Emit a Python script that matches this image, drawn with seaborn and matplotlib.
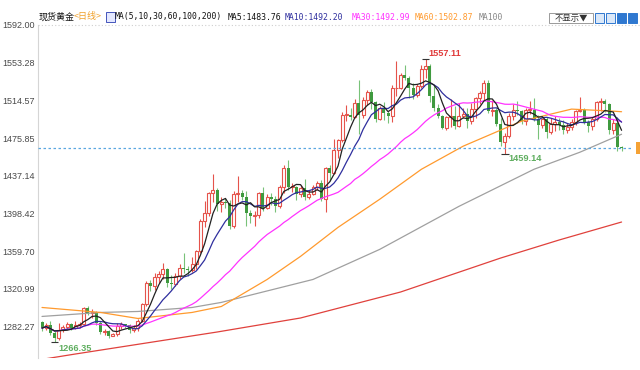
import numpy as np
import pandas as pd
import matplotlib
matplotlib.use('Agg')
import matplotlib.pyplot as plt
import seaborn as sns
from matplotlib.patches import Rectangle

# daily candles, spot gold (index 0 = first visible day)
opens = [1287, 1280.6, 1284, 1276, 1270.5, 1280, 1282, 1284.5, 1281, 1284,
         1285, 1301, 1296, 1297, 1286, 1277, 1277.5, 1273, 1274.5, 1283,
         1284.5, 1283.5, 1279, 1280.5, 1288, 1305, 1327, 1324, 1333, 1336,
         1341, 1327, 1326, 1334, 1342, 1341, 1340, 1346, 1360, 1391,
         1399, 1419, 1423, 1408, 1410, 1409, 1385, 1418, 1419, 1415,
         1399, 1396, 1397, 1419, 1404, 1415, 1413, 1406, 1426, 1445,
         1426, 1426, 1418, 1425, 1415, 1418, 1426, 1430, 1413, 1445,
         1440, 1464, 1474, 1500, 1500, 1497, 1512, 1500, 1515, 1523,
         1513, 1495, 1507, 1502, 1498, 1527, 1527, 1541, 1538, 1527,
         1520, 1529, 1547, 1550, 1519, 1507, 1499, 1486, 1497, 1498,
         1488, 1499, 1501, 1493, 1506, 1517, 1522, 1532, 1504, 1505,
         1490, 1472, 1478, 1499, 1505, 1504, 1493, 1505, 1505, 1495,
         1489, 1495, 1482, 1490, 1492, 1489, 1484, 1487, 1492, 1504,
         1505, 1492, 1488, 1495, 1513, 1514, 1511, 1484, 1491, 1467]
highs = [1288, 1286, 1288, 1278, 1286, 1284, 1287, 1286, 1288, 1287,
         1302, 1303, 1300, 1298, 1288, 1280, 1279, 1276, 1286, 1287,
         1285, 1285, 1284, 1290, 1306, 1329, 1330, 1337, 1339, 1348,
         1342, 1335, 1337, 1346, 1358, 1344, 1354, 1361, 1393, 1411,
         1420, 1439, 1425, 1415, 1414, 1412, 1421, 1437, 1422, 1421,
         1402, 1401, 1420, 1426, 1418, 1419, 1416, 1428, 1448, 1453,
         1430, 1427, 1428, 1434, 1422, 1428, 1432, 1433, 1446, 1448,
         1475, 1475, 1503, 1510, 1507, 1516, 1535, 1518, 1525, 1526,
         1514, 1509, 1513, 1504, 1530, 1555, 1543, 1551, 1540, 1532,
         1531, 1551, 1557.11, 1552, 1530, 1511, 1500, 1499, 1516, 1509,
         1512, 1507, 1507, 1512, 1518, 1524, 1535, 1535, 1515, 1507,
         1496, 1481, 1502, 1511, 1514, 1505, 1507, 1514, 1517, 1500,
         1496, 1497, 1496, 1499, 1496, 1494, 1491, 1495, 1505, 1518,
         1507, 1494, 1497, 1514, 1517, 1516, 1512, 1495, 1497, 1468]
lows = [1278, 1279, 1274, 1266.35, 1268, 1277, 1280, 1279, 1280, 1281,
        1284, 1294, 1291, 1284, 1275, 1274, 1270, 1272, 1272, 1280,
        1281, 1276, 1277, 1278, 1287, 1303, 1319, 1320, 1327, 1331,
        1323, 1321, 1324, 1331, 1337, 1334, 1338, 1341, 1358, 1384,
        1396, 1410, 1401, 1400, 1404, 1382, 1383, 1410, 1412, 1386,
        1389, 1385, 1394, 1401, 1403, 1407, 1400, 1404, 1419, 1422,
        1420, 1412, 1415, 1412, 1413, 1417, 1422, 1411, 1400, 1432,
        1439, 1455, 1472, 1493, 1494, 1496, 1480, 1496, 1510, 1506,
        1492, 1494, 1494, 1491, 1492, 1519, 1526, 1535, 1517, 1516,
        1518, 1527, 1538, 1513, 1504, 1496, 1485, 1484, 1487, 1485,
        1487, 1496, 1486, 1490, 1496, 1511, 1515, 1502, 1499, 1488,
        1468, 1459.14, 1476, 1494, 1500, 1490, 1489, 1501, 1493, 1475,
        1486, 1476, 1480, 1483, 1484, 1480, 1481, 1484, 1489, 1503,
        1490, 1482, 1484, 1493, 1504, 1503, 1480, 1480, 1463, 1463]
closes = [1280.6, 1283.7, 1276, 1270.5, 1279, 1282, 1284.5, 1281, 1284, 1285,
          1301, 1296, 1297, 1286, 1277, 1277.5, 1273, 1274.5, 1283, 1284.5,
          1283.5, 1279, 1280.5, 1288, 1305, 1327, 1324, 1333, 1336, 1341,
          1327, 1326, 1334, 1342, 1341, 1340, 1346, 1360, 1391, 1399,
          1419, 1423, 1408, 1410, 1409, 1385, 1418, 1419, 1415, 1399,
          1396, 1397, 1419, 1404, 1415, 1413, 1406, 1426, 1445, 1426,
          1426, 1418, 1425, 1415, 1418, 1426, 1430, 1413, 1445, 1440,
          1464, 1474, 1500, 1500, 1497, 1512, 1500, 1515, 1523, 1513,
          1495, 1507, 1502, 1498, 1527, 1527, 1541, 1538, 1527, 1520,
          1529, 1547, 1550, 1519, 1507, 1499, 1486, 1497, 1498, 1488,
          1499, 1501, 1493, 1506, 1517, 1522, 1532, 1504, 1505, 1490,
          1472, 1478, 1499, 1505, 1504, 1493, 1505, 1505, 1495, 1489,
          1495, 1482, 1490, 1492, 1489, 1484, 1487, 1492, 1504, 1505,
          1492, 1488, 1495, 1513, 1514, 1511, 1484, 1491, 1467, 1466]

# long moving averages (candle index, value)
ma60_idx = [0, 14, 23, 36, 43, 54, 62, 71, 81, 91, 101, 115, 127, 137, 139]
ma60_val = [1301.8, 1296.7, 1290.5, 1296.7, 1302.8, 1330.6, 1354.3, 1384.1,
            1413.0, 1443.8, 1467.5, 1493.2, 1505.6, 1503.5, 1502.9]
ma100_idx = [0, 14, 23, 36, 43, 65, 81, 100, 118, 129, 139]
ma100_val = [1292.6, 1296.7, 1297.7, 1301.8, 1307.0, 1330.6, 1361.5, 1405.7,
             1443.8, 1461.3, 1479.8]
ma200_idx = [0, 8, 42, 62, 86, 110, 124, 139]
ma200_val = [1248.5, 1254.0, 1276.6, 1291.0, 1317.7, 1352.6, 1371.1, 1389.6]

ytick_vals = [1282.27, 1320.99, 1359.70, 1398.42, 1437.14, 1475.85, 1514.57, 1553.28, 1592.00]
ytick_labels = ['1282.27', '1320.99', '1359.70', '1398.42', '1437.14',
                '1475.85', '1514.57', '1553.28', '1592.00']
last_price = 1466.0

sns.set_theme(style='white')
plt.rcParams['font.family'] = ['Liberation Sans', 'Noto Sans CJK SC', 'DejaVu Sans']

W, H = 640, 370
fig = plt.figure(figsize=(6.4, 3.7), dpi=100)
ax = fig.add_axes([38 / W, 1 - 358 / H, (632 - 38) / W, (358 - 25) / H])

o = np.array(opens, float)
h = np.array(highs, float)
l = np.array(lows, float)
c = np.array(closes, float)
idx = np.arange(len(c))
up = c >= o

red = '#e5534b'
green = '#3f9a3f'
ax.vlines(idx[up], l[up], h[up], color=red, lw=0.8, zorder=2)
ax.vlines(idx[~up], l[~up], h[~up], color='#79c279', lw=0.8, zorder=2)
bottom = np.minimum(o, c)
height = np.maximum(np.abs(c - o), 0.7)
ax.bar(idx[up], height[up], bottom=bottom[up], width=0.72,
       facecolor='white', edgecolor=red, linewidth=0.8, zorder=3)
ax.bar(idx[~up], height[~up], bottom=bottom[~up], width=0.72,
       color=green, linewidth=0, zorder=3)

s = pd.Series(c)
ma5 = s.rolling(5, min_periods=1).mean()
ma10 = s.rolling(10, min_periods=1).mean()
ma30 = s.rolling(30, min_periods=1).mean()

sns.lineplot(x=ma200_idx, y=ma200_val, ax=ax, color='#e0413c', lw=0.9, zorder=4)
sns.lineplot(x=ma100_idx, y=ma100_val, ax=ax, color='#a0a0a0', lw=0.9, zorder=4)
sns.lineplot(x=ma60_idx, y=ma60_val, ax=ax, color='#ff9a2e', lw=0.9, zorder=4)
sns.lineplot(x=idx, y=ma30, ax=ax, color='#ff33ff', lw=0.9, zorder=5)
sns.lineplot(x=idx, y=ma10, ax=ax, color='#2f2f9e', lw=0.9, zorder=5)
sns.lineplot(x=idx, y=ma5, ax=ax, color='#222222', lw=0.9, zorder=6)

ax.axhline(last_price, color='#5aa7e0', lw=0.9, ls=(0, (2, 2)), zorder=7)

# extreme markers
i_hi = int(np.argmax(h))
i_lo1 = int(np.argmin(l[:60]))
i_lo2 = 100 + int(np.argmin(l[100:]))
for i, v in [(i_hi, h[i_hi]), (i_lo1, l[i_lo1]), (i_lo2, l[i_lo2])]:
    ax.hlines(v, i - 0.9, i + 0.9, color='#333333', lw=0.8, zorder=7)
ax.annotate(f'{h[i_hi]:.2f}', (i_hi, h[i_hi]), xytext=(3, 5), textcoords='offset pixels',
            color='#e03a3a', fontsize=6.6, fontweight='bold', va='center', ha='left')
ax.annotate(f'{l[i_lo2]:.2f}', (i_lo2, l[i_lo2]), xytext=(4, -4), textcoords='offset pixels',
            color='#5fae5f', fontsize=6.6, fontweight='bold', va='center', ha='left')
ax.annotate(f'{l[i_lo1]:.2f}', (i_lo1, l[i_lo1]), xytext=(4, -7), textcoords='offset pixels',
            color='#5fae5f', fontsize=6.6, fontweight='bold', va='center', ha='left')

ax.set_xlim(-0.96, 141.5)
ax.set_ylim(1249.9, 1592.0)
ax.set_yticks(ytick_vals)
ax.set_yticklabels(ytick_labels)
ax.set_xticks([])
ax.tick_params(axis='y', length=0, pad=2, labelsize=6.5, labelcolor='#4a4a4a')
for side in ['top', 'right', 'bottom']:
    ax.spines[side].set_visible(False)
ax.spines['left'].set_color('#d5d5d5')
ax.spines['left'].set_linewidth(0.8)
ax.set_xlabel('')
ax.set_ylabel('')


def fx(px):
    return px / W


def fy(py):
    return 1 - py / H


# dotted rule under the header, full width
fig.add_artist(plt.Line2D([fx(38), 1.0], [fy(25), fy(25)], color='#cfcfcf', lw=0.8,
                          ls=(0, (1, 2)), transform=fig.transFigure))
# cut-off price tag on the right edge
fig.patches.append(Rectangle((fx(636), fy(154)), 4 / W, 12 / H, transform=fig.transFigure,
                             facecolor='#f5a235', edgecolor='none'))

cjk = ['Noto Sans CJK SC', 'DejaVu Sans']
mono = ['DejaVu Sans Mono']
hy = fy(17)
fig.text(fx(39), hy, '现货黄金', family=cjk, fontsize=6.5, color='#111111', va='center')
fig.text(fx(74), hy, '<日线>', family=cjk, fontsize=6.5, color='#f0a02a', va='center')
fig.patches.append(Rectangle((fx(106), fy(22)), 9 / W, 10 / H, transform=fig.transFigure,
                             facecolor='#e4e8ff', edgecolor='#4455bb', lw=0.7))
fig.text(fx(115), hy, 'MA(5,10,30,60,100,200)', family=mono, fontsize=5.9, color='#111111', va='center')
fig.text(fx(228), hy, 'MA5:1483.76', family=mono, fontsize=5.9, color='#111111', va='center')
fig.text(fx(285), hy, 'MA10:1492.20', family=mono, fontsize=5.9, color='#2f2f9e', va='center')
fig.text(fx(352), hy, 'MA30:1492.99', family=mono, fontsize=5.9, color='#ff33ff', va='center')
fig.text(fx(415), hy, 'MA60:1502.87', family=mono, fontsize=5.9, color='#ff9a2e', va='center')
fig.text(fx(479), hy, 'MA100', family=mono, fontsize=5.9, color='#888888', va='center')

fig.patches.append(Rectangle((fx(549), fy(23)), 44 / W, 10 / H, transform=fig.transFigure,
                             facecolor='white', edgecolor='#9a9a9a', lw=0.7))
fig.text(fx(571), fy(18), '不显示▼', family=cjk, fontsize=6, color='#333333', va='center', ha='center')
for k, x0 in enumerate([595, 606, 617, 628]):
    face = '#2f78d0' if k >= 2 else '#dbe8f8'
    fig.patches.append(Rectangle((fx(x0), fy(23)), 9 / W, 10 / H, transform=fig.transFigure,
                                 facecolor=face, edgecolor='#2f78d0', lw=0.7))

fig.savefig('out.png', dpi=100)
